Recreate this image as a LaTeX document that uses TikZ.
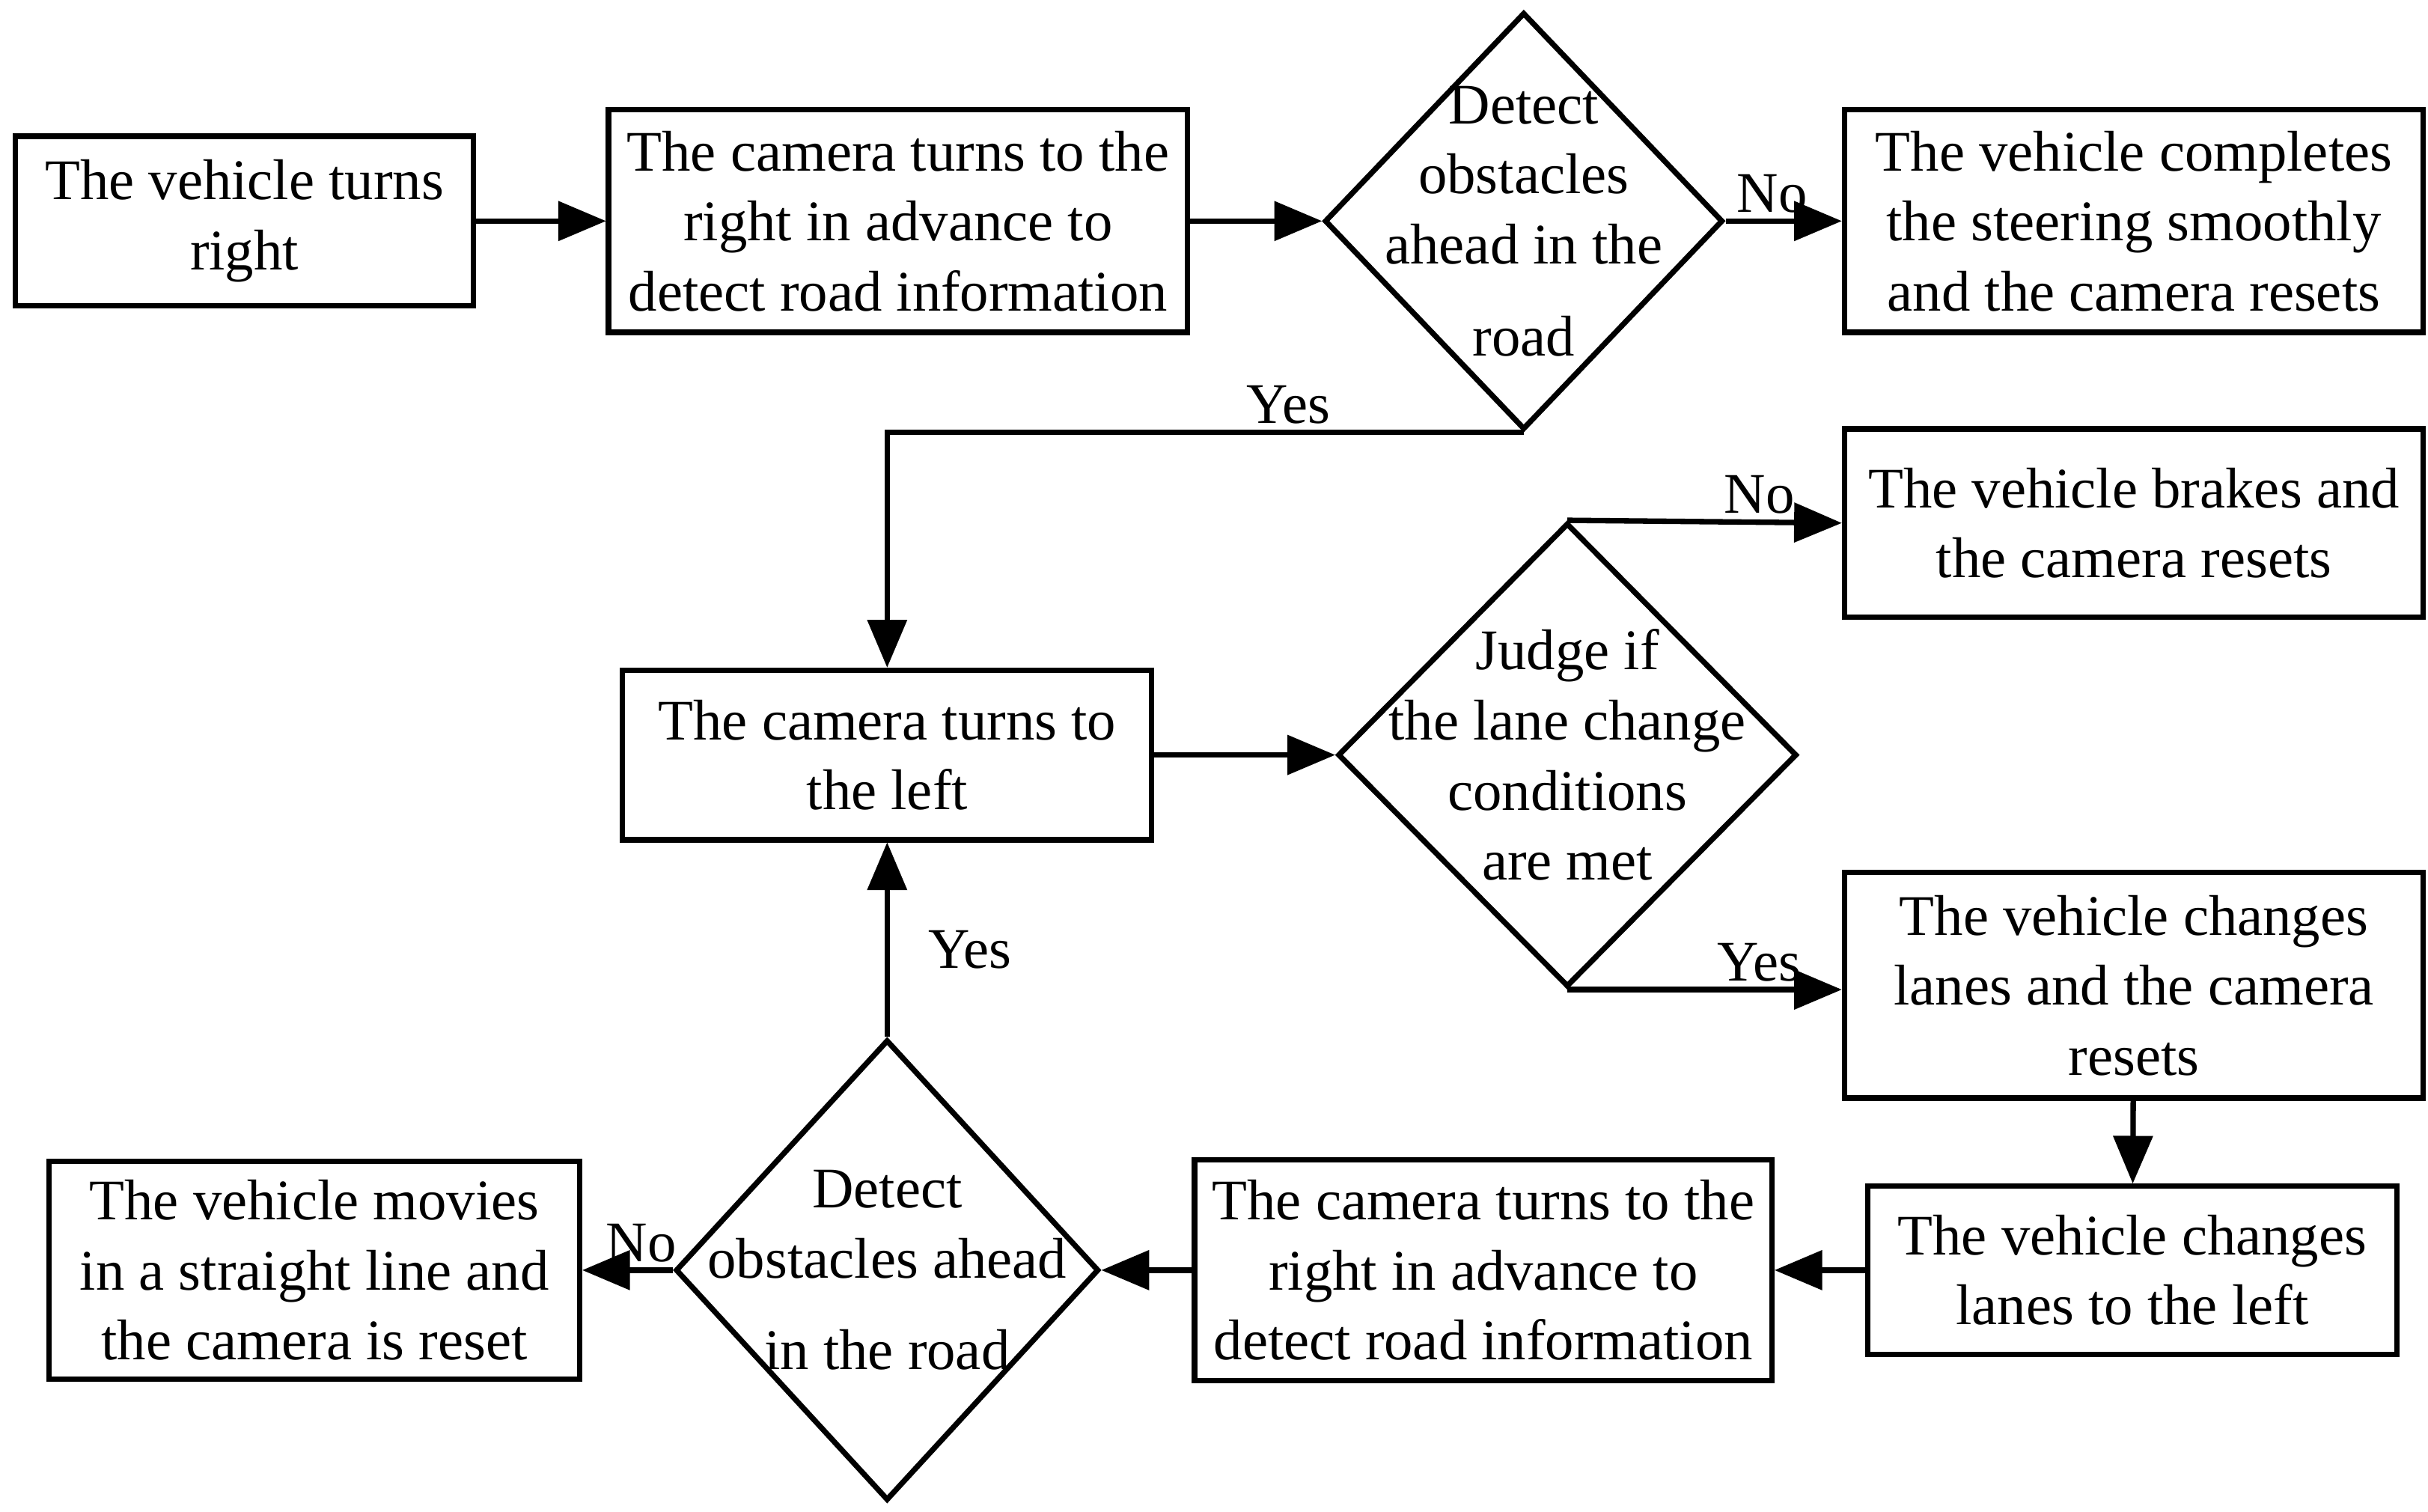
\documentclass[tikz,border=0pt]{standalone}
\usepackage{fontspec}
\setmainfont{Liberation Serif}
\usetikzlibrary{shapes.geometric,arrows,positioning}
\begin{document}
\begin{tikzpicture}
  [
    x=0.1mm,y=-0.1mm,
    font=\fontsize{10.5}{12.8}\selectfont,
    box/.style={draw, line width=1pt, align=center, inner sep=1pt},
    dec/.style={draw, diamond, line width=1pt, inner sep=0pt},
    arr/.style={-triangle 45, line width=1pt},
    lab/.style={inner sep=1pt}
  ]
  \useasboundingbox (0,0) rectangle (1560,971);
  \node[box,minimum width=2.94cm,minimum height=1.09cm] (turn) at (157,142) {The vehicle turns\\right};
  \node[box,minimum width=3.72cm,minimum height=1.43cm] (camr) at (577,142) {The camera turns to the\\right in advance to\\detect road information};
  \node[dec,minimum width=2.56cm,minimum height=2.68cm,label={[align=center]center:Detect\\obstacles\\ahead in the\\[4pt]road}] (obs1) at (979,142) {};
  \node[box,minimum width=3.72cm,minimum height=1.43cm] (done) at (1371,142) {The vehicle completes\\the steering smoothly\\and the camera resets};
  \node[box,minimum width=3.4cm,minimum height=1.09cm] (caml) at (570,485) {The camera turns to\\the left};
  \node[dec,minimum width=2.95cm,minimum height=2.98cm,label={[align=center]center:Judge if\\the lane change\\conditions\\are met}] (judge) at (1007,485) {};
  \node[box,minimum width=3.72cm,minimum height=1.21cm] (brake) at (1371,336) {The vehicle brakes and\\the camera resets};
  \node[box,minimum width=3.72cm,minimum height=1.45cm] (change) at (1371,633) {The vehicle changes\\lanes and the camera\\resets};
  \node[box,minimum width=3.4cm,minimum height=1.08cm] (left) at (1370,816) {The vehicle changes\\lanes to the left};
  \node[box,minimum width=3.71cm,minimum height=1.42cm] (camr2) at (953,816) {The camera turns to the\\right in advance to\\detect road information};
  \node[dec,minimum width=2.72cm,minimum height=2.96cm,label={[align=center]center:Detect\\obstacles ahead\\[4pt]in the road}] (obs2) at (570,816) {};
  \node[box,minimum width=3.41cm,minimum height=1.4cm] (straight) at (202,816) {The vehicle movies\\in a straight line and\\the camera is reset};

  \draw[arr] (turn) -- (camr);
  \draw[arr] (camr) -- (obs1);
  \draw[arr] (obs1.east) -- node[lab,above,pos=0.4] {No} (done.west);
  \draw[arr] (obs1.south) -- node[lab,above,pos=0.37] {Yes} (caml.north|-obs1.south) -- (caml.north);
  \draw[arr] (caml) -- (judge.west);
  \draw[arr] (judge.north) -- node[lab,above,pos=0.7] {No} (brake.west);
  \draw[arr] (judge.south) -- node[lab,above,pos=0.7] {Yes} (change.west|-judge.south);
  \draw[arr] (change) -- (left);
  \draw[arr] (left) -- (camr2);
  \draw[arr] (camr2) -- (obs2.east);
  \draw[arr] (obs2.west) -- node[lab,above,pos=0.35] {No} (straight.east);
  \draw[arr] (obs2.north) -- node[lab,right=6pt,pos=0.45] {Yes} (caml.south);
\end{tikzpicture}
\end{document}
